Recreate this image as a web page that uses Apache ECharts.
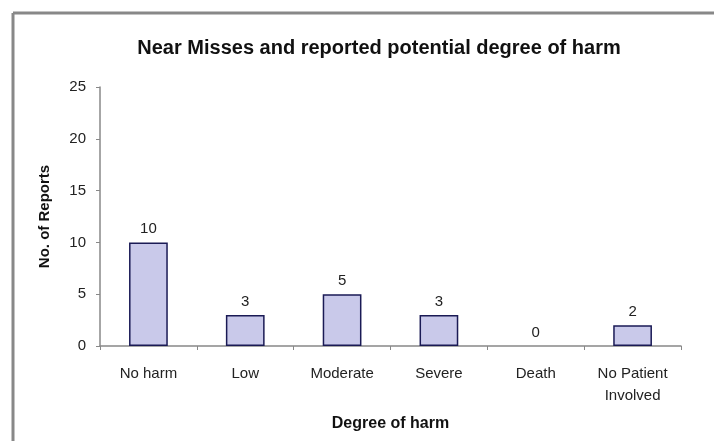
<!DOCTYPE html>
<html><head><meta charset="utf-8">
<script src="https://cdn.jsdelivr.net/npm/echarts@6/dist/echarts.min.js"></script>
<style>html,body{margin:0;padding:0;background:#fff}#c{width:714px;height:441px}</style>
</head><body><div id="c"></div>
<script>
const categories = ['No harm', 'Low', 'Moderate', 'Severe', 'Death', 'No Patient\nInvolved'];
const reports = [10, 3, 5, 3, 0, 2];
const titleText = 'Near Misses and reported potential degree of harm';
const xName = 'Degree of harm';
const yName = 'No. of Reports';

const chart = echarts.init(document.getElementById('c'));
const font = 'Liberation Sans, Arial, sans-serif';
chart.setOption({
  animation: false,
  title: { text: titleText, left: 374, top: 33, textAlign: 'center',
    textStyle: { fontFamily: font, fontSize: 20, fontWeight: 'bold', color: '#111' } },
  graphic: [
    { type: 'line', shape: { x1: 13, y1: 13, x2: 714, y2: 13 }, style: { stroke: '#888', lineWidth: 3 } },
    { type: 'line', shape: { x1: 13, y1: 13, x2: 13, y2: 441 }, style: { stroke: '#888', lineWidth: 3 } }
  ],
  grid: { left: 100, right: 33, top: 87, bottom: 95, containLabel: false },
  xAxis: {
    type: 'category', data: categories,
    name: xName, nameLocation: 'middle', nameGap: 70,
    nameTextStyle: { fontFamily: font, fontSize: 16, fontWeight: 'bold', color: '#111' },
    axisLine: { lineStyle: { color: '#888', width: 1.5 } },
    axisTick: { show: true, alignWithLabel: false, length: 4, lineStyle: { color: '#888' } },
    axisLabel: { fontFamily: font, fontSize: 15, color: '#222', margin: 17, lineHeight: 22, interval: 0 }
  },
  yAxis: {
    type: 'value', min: 0, max: 25, interval: 5,
    name: yName, nameLocation: 'middle', nameGap: 48, nameRotate: 90,
    nameTextStyle: { fontFamily: font, fontSize: 15, fontWeight: 'bold', color: '#111' },
    axisLine: { show: true, lineStyle: { color: '#888', width: 1.5 } },
    axisTick: { show: true, length: 4, lineStyle: { color: '#888' } },
    axisLabel: { fontFamily: font, fontSize: 15, color: '#222', margin: 14 },
    splitLine: { show: false }
  },
  series: [{
    type: 'bar',
    data: reports.map(v => v === 0 ? { value: v, itemStyle: { borderWidth: 0 } } : v),
    barWidth: '40%',
    itemStyle: { color: '#c9c9ea', borderColor: '#1a1a55', borderWidth: 1.5 },
    label: { show: true, position: 'top', distance: 6, fontFamily: font, fontSize: 15, color: '#222' }
  }]
});
</script></body></html>
